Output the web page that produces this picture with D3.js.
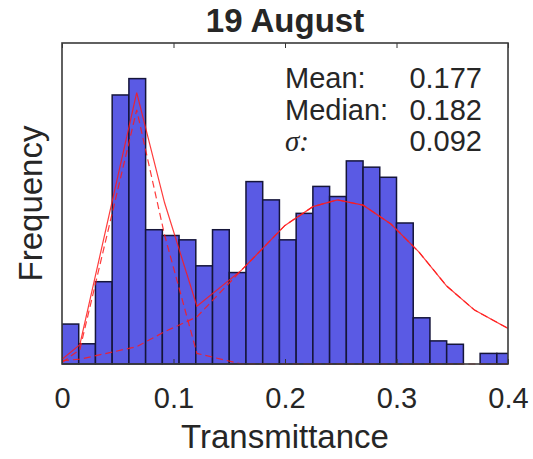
<!DOCTYPE html>
<html>
<head>
<meta charset="utf-8">
<script src="https://cdn.jsdelivr.net/npm/d3@7"></script>
<style>
  html, body { margin: 0; padding: 0; background: #ffffff; }
  svg { display: block; }
  text { font-family: "Liberation Sans", Arial, Helvetica, sans-serif; fill: #262626; }
</style>
</head>
<body>
<svg id="chart" width="533" height="459"></svg>
<script>
// Histogram of transmittance (normalised as a density), 0.015-wide bins from 0
const binStart = 0;
const binWidth = 0.015;
const density = [0.83, 0.42, 1.71, 5.59, 5.93, 2.79, 2.67, 2.58, 2.04, 2.79,
                 1.90, 3.79, 3.41, 2.58, 3.13, 3.69, 3.48, 4.22, 4.09, 3.88,
                 2.93, 0.96, 0.48, 0.41, 0.00, 0.22, 0.22];

// Two-component fit, sampled at the points in fitX
const fitX      = [0, 0.016, 0.067, 0.092, 0.121, 0.161, 0.2, 0.225, 0.247, 0.27, 0.295, 0.32, 0.345, 0.37, 0.4];
const fitTotal  = [0.10, 0.40, 5.64, 3.35, 1.20, 1.95, 2.88, 3.27, 3.41, 3.30, 2.91, 2.33, 1.62, 1.12, 0.74];
const fitComp1  = [0.03, 0.30, 5.28, 2.68, 0.22, 0.00, 0.00, 0.00, 0.00, 0.00, 0.00, 0.00, 0.00, 0.00, 0.00];
const fitComp2  = [0.07, 0.10, 0.36, 0.67, 0.98, 1.95, 2.88, 3.27, 3.41, 3.30, 2.91, 2.33, 1.62, 1.12, 0.74];

// Axis ticks and annotation
const xTicks = [0, 0.1, 0.2, 0.3, 0.4];
const xTickLabels = ["0", "0.1", "0.2", "0.3", "0.4"];
const statNames = ["Mean:", "Median:", "σ:"];
const statValues = ["0.177", "0.182", "0.092"];

const svg = d3.select("#chart");
const plotLeft = 62, plotRight = 508, plotTop = 43, plotBottom = 364;

const x = d3.scaleLinear().domain([0, 0.4]).range([plotLeft, plotRight]);
const y = d3.scaleLinear().domain([0, 6.67]).range([plotBottom, plotTop]);

svg.append("defs").append("clipPath").attr("id", "plotClip")
  .append("rect").attr("x", plotLeft).attr("y", plotTop - 2)
  .attr("width", plotRight - plotLeft).attr("height", plotBottom - plotTop + 4);

const plot = svg.append("g").attr("clip-path", "url(#plotClip)");

// bars
plot.selectAll("rect.bar").data(density).join("rect")
  .attr("class", "bar")
  .attr("x", (d, i) => x(binStart + i * binWidth))
  .attr("width", (d, i) => x(binStart + (i + 1) * binWidth) - x(binStart + i * binWidth))
  .attr("y", d => y(d))
  .attr("height", d => y(0) - y(d))
  .attr("fill", "#5a5ae4")
  .attr("stroke", "#15153a")
  .attr("stroke-width", 1.5);

// fitted curves
const line = d3.line().x((d, i) => x(fitX[i])).y(d => y(d));
plot.append("path").datum(fitTotal).attr("d", line)
  .attr("fill", "none").attr("stroke", "#ff1a1a").attr("stroke-width", 1.2).attr("stroke-opacity", 0.85);
plot.append("path").datum(fitComp1).attr("d", line)
  .attr("fill", "none").attr("stroke", "#ff1a1a").attr("stroke-width", 1.2)
  .attr("stroke-dasharray", "7,4").attr("stroke-opacity", 0.85);
plot.append("path").datum(fitComp2).attr("d", line)
  .attr("fill", "none").attr("stroke", "#ff1a1a").attr("stroke-width", 1.2)
  .attr("stroke-dasharray", "7,4").attr("stroke-opacity", 0.85);

// axes: inward ticks on bottom and top, labels at the bottom only
const xAxis = d3.axisBottom(x).tickValues(xTicks)
  .tickFormat((d, i) => xTickLabels[i]).tickSizeInner(-5).tickSizeOuter(0).tickPadding(23);
const gx = svg.append("g").attr("transform", `translate(0,${plotBottom})`).call(xAxis);
gx.select(".domain").remove();
gx.selectAll(".tick line").attr("stroke", "#333").attr("stroke-width", 1);
gx.selectAll(".tick text").attr("font-size", 29).attr("fill", "#262626")
  .style("font-family", '"Liberation Sans", Arial, sans-serif');

const xAxisTop = d3.axisTop(x).tickValues(xTicks).tickFormat("").tickSizeInner(-5).tickSizeOuter(0);
const gxt = svg.append("g").attr("transform", `translate(0,${plotTop})`).call(xAxisTop);
gxt.select(".domain").remove();
gxt.selectAll(".tick line").attr("stroke", "#333").attr("stroke-width", 1);

// box
svg.append("rect").attr("x", plotLeft).attr("y", plotTop)
  .attr("width", plotRight - plotLeft).attr("height", plotBottom - plotTop)
  .attr("fill", "none").attr("stroke", "#3a3a3a").attr("stroke-width", 1.6);

// title and axis labels
svg.append("text").attr("x", (plotLeft + plotRight) / 2).attr("y", 32)
  .attr("text-anchor", "middle").attr("font-size", 33).attr("font-weight", "bold")
  .attr("fill", "#111").text("19 August");
svg.append("text").attr("x", (plotLeft + plotRight) / 2).attr("y", 448)
  .attr("text-anchor", "middle").attr("font-size", 33).text("Transmittance");
svg.append("text").attr("transform", `translate(42,${(plotTop + plotBottom) / 2}) rotate(-90)`)
  .attr("text-anchor", "middle").attr("font-size", 33).text("Frequency");

// statistics block
const statY = [88, 120, 151];
statNames.forEach((name, i) => {
  const t = svg.append("text").attr("x", 285).attr("y", statY[i]).attr("font-size", 29);
  if (name === "σ:") {
    t.append("tspan").attr("font-style", "italic")
      .style("font-family", '"Liberation Serif", "DejaVu Serif", serif').text("σ:");
  } else {
    t.text(name);
  }
  svg.append("text").attr("x", 482).attr("y", statY[i]).attr("text-anchor", "end")
    .attr("font-size", 29).text(statValues[i]);
});
</script>
</body>
</html>
